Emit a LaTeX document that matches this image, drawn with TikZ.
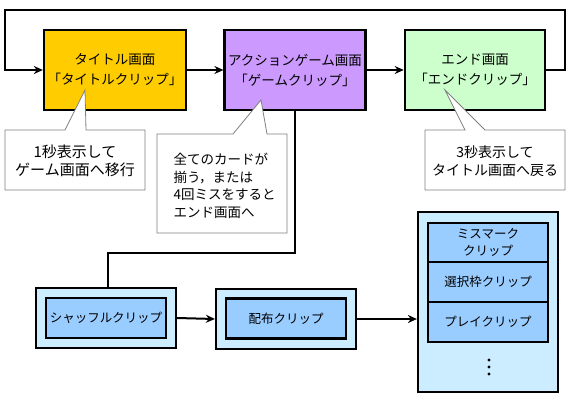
\documentclass[tikz,border=0pt]{standalone}
\usepackage{fontspec}
\setmainfont{Noto Sans CJK JP}
\usetikzlibrary{arrows.meta}
\definecolor{titleyellow}{HTML}{FFCC00}
\definecolor{actionpurple}{HTML}{CC99FF}
\definecolor{endgreen}{HTML}{CCFFCC}
\definecolor{outerblue}{HTML}{CCECFF}
\definecolor{innerblue}{HTML}{99CCFF}
\definecolor{balloongray}{HTML}{808080}

\begin{document}
\begin{tikzpicture}[x=1pt,y=-1pt,
    font=\fontsize{14}{18}\selectfont,
    screen/.style={draw,line width=2.6pt,minimum width=140pt,minimum height=80pt,
        align=center,font=\fontsize{13.5}{20}\selectfont},
    outerclip/.style={draw,line width=2.2pt,fill=outerblue,minimum width=140pt,minimum height=60pt},
    innerclip/.style={draw,line width=2.2pt,fill=innerblue,minimum width=120pt,minimum height=40pt,
        align=center,font=\fontsize{12.5}{17}\selectfont},
    balloon/.style={draw=balloongray,fill=white,line width=0.8pt,line join=miter},
    flow/.style={line width=2pt,-{Stealth[length=9pt,width=8pt]}}]
    \useasboundingbox (0,0) rectangle (574,402);
    \node[screen,fill=titleyellow] (title) at (115,70) {タイトル画面\\「タイトルクリップ」};
    \node[screen,fill=actionpurple] (action) at (295,70) {アクションゲーム画面\\「ゲームクリップ」};
    \node[screen,fill=endgreen] (ending) at (475,70) {エンド画面\\「エンドクリップ」};
    \coordinate (loopR) at (565,10);
    \coordinate (loopL) at (5,10);
    \draw[flow] (title.east) -- (action.west);
    \draw[flow] (action.east) -- (ending.west);
    \draw[flow] (ending.east) -| (loopR) -- (loopL) |- (title.west);
    % balloons
    \draw[balloon] (86,130) -- (145,130) -- (145,190) -- (5,190) -- (5,130) -- (65,130) -- (85,90) -- cycle;
    \node[align=center,font=\fontsize{15}{18}\selectfont] (note1) at (75,161) {1秒表示して\\ゲーム画面へ移行};
    \draw[balloon] (267,134) -- (287,134) -- (287,233) -- (157,233) -- (157,134) -- (233,134) -- (261,100) -- cycle;
    \node[anchor=west,align=left,font=\fontsize{13.5}{17.5}\selectfont] (note2) at (170,186)
        {全てのカードが\\揃う，または\\4回ミスをすると\\エンド画面へ};
    \draw[balloon] (485,130) -- (565,130) -- (565,190) -- (425,190) -- (425,130) -- (465,130) -- (445,90) -- cycle;
    \node[align=center] (note3) at (495,161) {3秒表示して\\タイトル画面へ戻る};
    % clips
    \node[outerclip] (shuffleouter) at (106,318) {};
    \node[innerclip] (shuffle) at (106,318) {シャッフルクリップ};
    \node[outerclip] (dealouter) at (286,319) {};
    \node[innerclip] (deal) at (286,318.5) {配布クリップ};
    \node[outerclip,minimum height=180pt] (playouter) at (488,302) {};
    \node[innerclip,minimum height=39pt] (miss) at (488,242.5) {ミスマーク\\クリップ};
    \node[innerclip] (select) at (488,282) {選択枠クリップ};
    \node[innerclip] (play) at (488,322) {プレイクリップ};
    \foreach \y in {360,367,374} \fill (489,\y) circle (1.6pt);
    \coordinate (turn) at (108,253);
    \draw[line width=2pt] (action.south) |- (turn) -- (turn |- shuffleouter.north);
    \draw[flow] (shuffleouter.east) -- (dealouter.west);
    \draw[flow] (dealouter.east) -- (dealouter.east -| playouter.west);
\end{tikzpicture}
\end{document}
